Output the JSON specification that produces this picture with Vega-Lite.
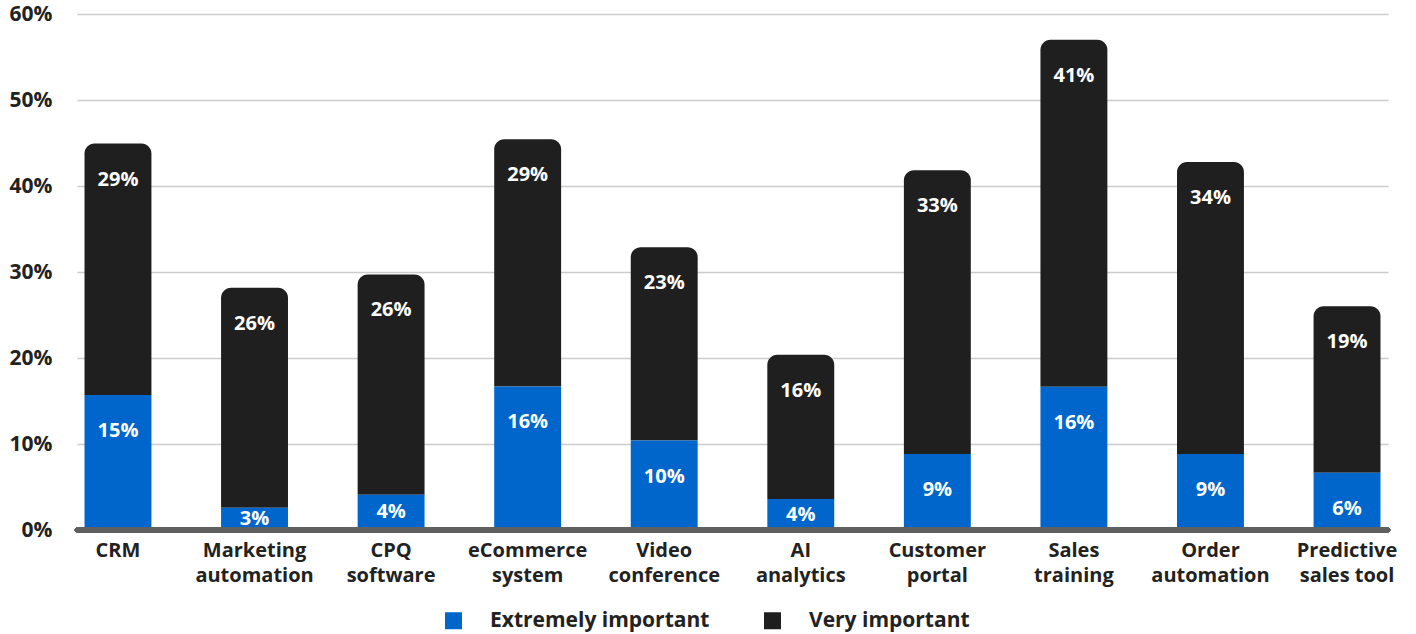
{
  "$schema": "https://vega.github.io/schema/vega-lite/v6.json",
  "width": 1311,
  "height": 516,
  "padding": {"left": 77, "top": 14, "right": 28, "bottom": 104},
  "autosize": {"type": "none"},
  "background": "white",
  "config": {
    "view": {"stroke": null},
    "font": "Open Sans",
    "text": {"font": "Open Sans"}
  },
  "data": {
    "values": [
      {"category": "CRM", "series": "Extremely important", "ord": 1, "value": 15.69, "label": "15%"},
      {"category": "CRM", "series": "Very important", "ord": 2, "value": 29.25, "label": "29%"},
      {"category": "Marketing automation", "series": "Extremely important", "ord": 1, "value": 2.59, "label": "3%"},
      {"category": "Marketing automation", "series": "Very important", "ord": 2, "value": 25.57, "label": "26%"},
      {"category": "CPQ software", "series": "Extremely important", "ord": 1, "value": 4.1, "label": "4%"},
      {"category": "CPQ software", "series": "Very important", "ord": 2, "value": 25.61, "label": "26%"},
      {"category": "eCommerce system", "series": "Extremely important", "ord": 1, "value": 16.69, "label": "16%"},
      {"category": "eCommerce system", "series": "Very important", "ord": 2, "value": 28.75, "label": "29%"},
      {"category": "Video conference", "series": "Extremely important", "ord": 1, "value": 10.4, "label": "10%"},
      {"category": "Video conference", "series": "Very important", "ord": 2, "value": 22.49, "label": "23%"},
      {"category": "AI analytics", "series": "Extremely important", "ord": 1, "value": 3.6, "label": "4%"},
      {"category": "AI analytics", "series": "Very important", "ord": 2, "value": 16.78, "label": "16%"},
      {"category": "Customer portal", "series": "Extremely important", "ord": 1, "value": 8.85, "label": "9%"},
      {"category": "Customer portal", "series": "Very important", "ord": 2, "value": 32.98, "label": "33%"},
      {"category": "Sales training", "series": "Extremely important", "ord": 1, "value": 16.66, "label": "16%"},
      {"category": "Sales training", "series": "Very important", "ord": 2, "value": 40.36, "label": "41%"},
      {"category": "Order automation", "series": "Extremely important", "ord": 1, "value": 8.85, "label": "9%"},
      {"category": "Order automation", "series": "Very important", "ord": 2, "value": 33.95, "label": "34%"},
      {"category": "Predictive sales tool", "series": "Extremely important", "ord": 1, "value": 6.67, "label": "6%"},
      {"category": "Predictive sales tool", "series": "Very important", "ord": 2, "value": 19.34, "label": "19%"}
    ]
  },
  "transform": [
    {"stack": "value", "groupby": ["category"], "sort": [{"field": "ord", "order": "ascending"}], "as": ["v0", "v1"]}
  ],
  "encoding": {
    "x": {
      "field": "category",
      "type": "nominal",
      "sort": null,
      "scale": {"paddingInner": 0.51, "paddingOuter": 0.055},
      "axis": {
        "title": null,
        "domain": false,
        "ticks": false,
        "labelAngle": 0,
        "labelPadding": 10,
        "labelFontSize": 20,
        "labelFontWeight": "bold",
        "labelColor": "#222222",
        "labelLineHeight": 25,
        "labelBaseline": "top",
        "labelLimit": 0,
        "labelExpr": "indexof(datum.value, ' ') > 0 ? [slice(datum.value, 0, indexof(datum.value, ' ')), slice(datum.value, indexof(datum.value, ' ') + 1)] : datum.value"
      }
    }
  },
  "layer": [
    {
      "mark": {"type": "bar", "cornerRadiusTopLeft": 10, "cornerRadiusTopRight": 10},
      "transform": [{"filter": "datum.ord == 2"}],
      "encoding": {
        "y": {
          "field": "v1",
          "type": "quantitative",
          "scale": {"domain": [0, 60], "nice": false},
          "axis": {
            "title": null,
            "values": [0, 10, 20, 30, 40, 50, 60],
            "domain": false,
            "ticks": false,
            "grid": true,
            "gridColor": "#cccccc",
            "gridWidth": 1.3,
            "labelPadding": 25,
            "labelFontSize": 21,
            "labelFontWeight": "bold",
            "labelColor": "#222222",
            "labelExpr": "datum.value + '%'"
          }
        },
        "y2": {"field": "v0"},
        "color": {
          "field": "series",
          "type": "nominal",
          "scale": {"domain": ["Extremely important", "Very important"], "range": ["#0066cc", "#1f1f1f"]},
          "legend": {
            "title": null,
            "orient": "none",
            "direction": "horizontal",
            "legendX": 366,
            "legendY": 596,
            "padding": 0,
            "symbolType": "square",
            "symbolSize": 289,
            "symbolStrokeWidth": 0,
            "symbolOpacity": 1,
            "labelOffset": 26,
            "columnPadding": 52,
            "labelFontSize": 21,
            "labelFontWeight": "bold",
            "labelColor": "#222222",
            "labelLimit": 0
          }
        }
      }
    },
    {
      "mark": {"type": "bar"},
      "transform": [{"filter": "datum.ord == 1"}],
      "encoding": {
        "y": {"field": "v1", "type": "quantitative"},
        "y2": {"field": "v0"},
        "color": {"field": "series", "type": "nominal"}
      }
    },
    {
      "mark": {"type": "rule", "color": "#5f5f5f", "strokeWidth": 4.5, "strokeCap": "round"},
      "encoding": {"y": {"datum": 0, "type": "quantitative"}, "x": {"value": 0}, "x2": {"value": 1311}}
    },
    {
      "transform": [{"filter": "datum.value >= 5"}],
      "mark": {"type": "text", "color": "white", "fontSize": 20, "fontWeight": "bold", "baseline": "middle", "dy": 36},
      "encoding": {
        "y": {"field": "v1", "type": "quantitative"},
        "text": {"field": "label"}
      }
    },
    {
      "transform": [{"filter": "datum.value < 5"}, {"calculate": "(datum.v0 + datum.v1) / 2", "as": "mid"}],
      "mark": {"type": "text", "color": "white", "fontSize": 20, "fontWeight": "bold", "baseline": "middle"},
      "encoding": {
        "y": {"field": "mid", "type": "quantitative"},
        "text": {"field": "label"}
      }
    }
  ]
}
